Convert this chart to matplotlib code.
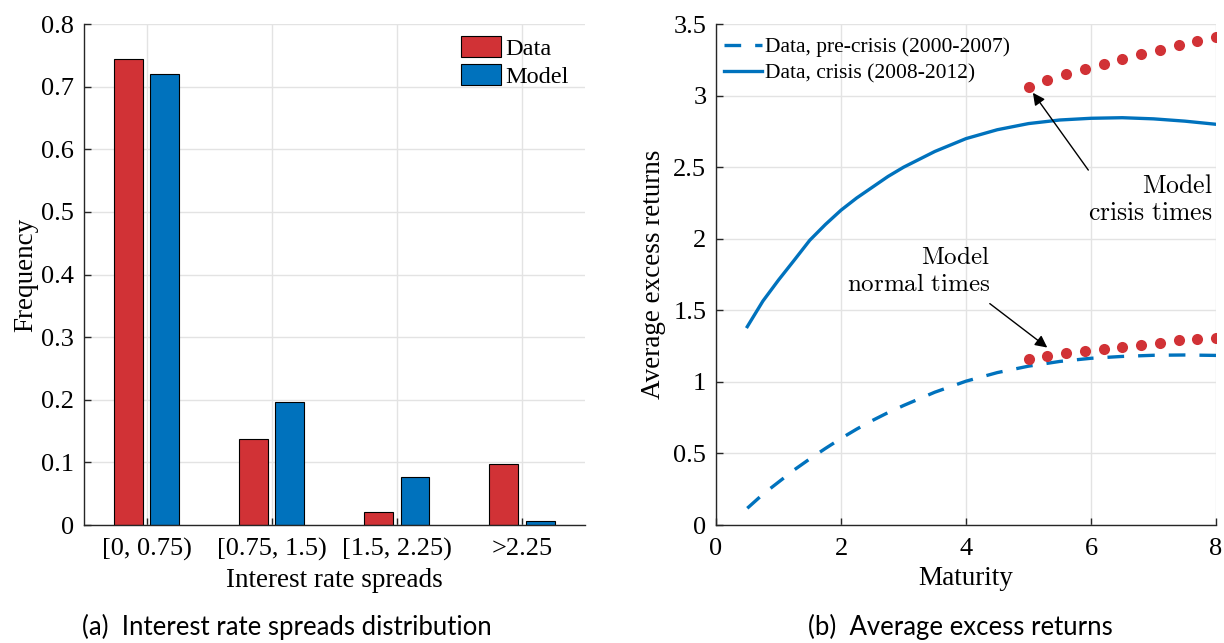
import numpy as np
import matplotlib.pyplot as plt

plt.rcParams['font.family'] = ['Liberation Serif', 'DejaVu Serif']
plt.rcParams['mathtext.fontset'] = 'cm'

# panel (a): spread distribution
categories = ['[0, 0.75)', '[0.75, 1.5)', '[1.5, 2.25)', '>2.25']
freq_data = [0.745, 0.138, 0.020, 0.098]
freq_model = [0.720, 0.197, 0.077, 0.007]

# panel (b): average excess returns by maturity
maturity = [0.5, 0.75, 1, 1.25, 1.5, 1.75, 2, 2.25, 2.5, 2.75, 3, 3.5, 4, 4.5,
            5, 5.5, 6, 6.5, 7, 7.5, 8]
ret_pre = [0.117, 0.215, 0.300, 0.385, 0.462, 0.535, 0.605, 0.670, 0.730,
           0.785, 0.835, 0.928, 1.005, 1.065, 1.110, 1.143, 1.165, 1.178,
           1.186, 1.188, 1.185]
ret_crisis = [1.386, 1.565, 1.712, 1.850, 1.990, 2.100, 2.200, 2.285, 2.360,
              2.435, 2.500, 2.610, 2.700, 2.762, 2.805, 2.830, 2.842, 2.846,
              2.838, 2.822, 2.800]
mat_model = [5.0, 5.3, 5.6, 5.9, 6.2, 6.5, 6.8, 7.1, 7.4, 7.7, 8.0]
model_crisis = [3.06, 3.11, 3.15, 3.185, 3.22, 3.255, 3.29, 3.32, 3.355, 3.38, 3.41]
model_normal = [1.16, 1.18, 1.20, 1.215, 1.23, 1.245, 1.26, 1.275, 1.29, 1.30, 1.31]

red = '#D13236'
blue = '#0072BD'
axcol = '#262626'

fig = plt.figure(figsize=(12.24, 6.43), dpi=100)
ax1 = fig.add_axes([0.0686, 0.1835, 0.409, 0.779])
ax2 = fig.add_axes([0.585, 0.1835, 0.4085, 0.779])

def style(ax):
    ax.grid(True, color='#e3e3e3', linewidth=1)
    ax.set_axisbelow(True)
    for s in ['top', 'right']:
        ax.spines[s].set_visible(False)
    for s in ['left', 'bottom']:
        ax.spines[s].set_color(axcol)
        ax.spines[s].set_linewidth(1)
    ax.tick_params(direction='in', length=5, width=1, color=axcol,
                   labelsize=19)
    ax.tick_params(axis='x', pad=9)
    ax.tick_params(axis='y', pad=7)

# (a)
x = np.arange(1, len(categories) + 1)
w = 0.23
ax1.bar(x - 0.145, freq_data, w, color=red, edgecolor='black', linewidth=0.8,
        label='Data')
ax1.bar(x + 0.145, freq_model, w, color=blue, edgecolor='black', linewidth=0.8,
        label='Model')
ax1.set_xlim(0.5, 4.5)
ax1.set_ylim(0, 0.8)
ax1.set_xticks(x)
ax1.set_xticklabels(categories)
ax1.set_yticks(np.arange(0, 0.81, 0.1))
ax1.set_yticklabels(['0'] + ['%.1f' % v for v in np.arange(0.1, 0.81, 0.1)])
style(ax1)
ax1.set_xlabel('Interest rate spreads', fontsize=19.5, labelpad=5)
ax1.set_ylabel('Frequency', fontsize=19.5, labelpad=2)
ax1.legend(loc='upper right', bbox_to_anchor=(0.992, 1.0), frameon=False,
           fontsize=17.5, handlelength=1.65, handleheight=0.95,
           handletextpad=0.15, labelspacing=0.15, borderaxespad=0.1)

# (b)
ax2.plot(maturity, ret_pre, color=blue, linewidth=2.4, linestyle=(0, (5, 4.2)),
         label='Data, pre-crisis (2000-2007)')
ax2.plot(maturity, ret_crisis, color=blue, linewidth=2.4,
         label='Data, crisis (2008-2012)')
ax2.plot(mat_model, model_crisis, 'o', color=red, markersize=8, markeredgewidth=0)
ax2.plot(mat_model, model_normal, 'o', color=red, markersize=8, markeredgewidth=0)
ax2.set_xlim(0, 8)
ax2.set_ylim(0, 3.5)
ax2.set_xticks([0, 2, 4, 6, 8])
ax2.set_yticks(np.arange(0, 3.51, 0.5))
ax2.set_yticklabels(['0', '0.5', '1', '1.5', '2', '2.5', '3', '3.5'])
style(ax2)
ax2.set_xlabel('Maturity', fontsize=19.5, labelpad=5)
ax2.set_ylabel('Average excess returns', fontsize=19.5, labelpad=5)
ax2.legend(loc='upper left', bbox_to_anchor=(-0.01, 1.0), frameon=False,
           fontsize=15.5, handlelength=1.75, handletextpad=0.15,
           labelspacing=0.3, borderaxespad=0.2)

ax2.annotate(r'$\mathrm{Model}$' + '\n' + r'$\mathrm{crisis\ times}$',
             xy=(5.07, 3.02), xytext=(7.95, 2.27),
             ha='right', va='center', fontsize=18.5, linespacing=1.3,
             arrowprops=dict(arrowstyle='-|>', color='black', lw=1,
                             mutation_scale=18, shrinkA=0, shrinkB=0,
                             relpos=(0.0, 1.1)))
ax2.annotate(r'$\mathrm{Model}$' + '\n' + r'$\mathrm{normal\ times}$',
             xy=(5.3, 1.24), xytext=(4.38, 1.77),
             ha='right', va='center', fontsize=18, linespacing=1.3,
             arrowprops=dict(arrowstyle='-|>', color='black', lw=1,
                             mutation_scale=18, shrinkA=0, shrinkB=0,
                             relpos=(1.0, -0.15)))

fig.text(0.234, 0.025, '(a)  Interest rate spreads distribution',
         ha='center', va='center', fontsize=18.5, family=['Lato', 'DejaVu Sans'])
fig.text(0.785, 0.025, '(b)  Average excess returns',
         ha='center', va='center', fontsize=18.5, family=['Lato', 'DejaVu Sans'])

fig.savefig('out.png', dpi=100)
